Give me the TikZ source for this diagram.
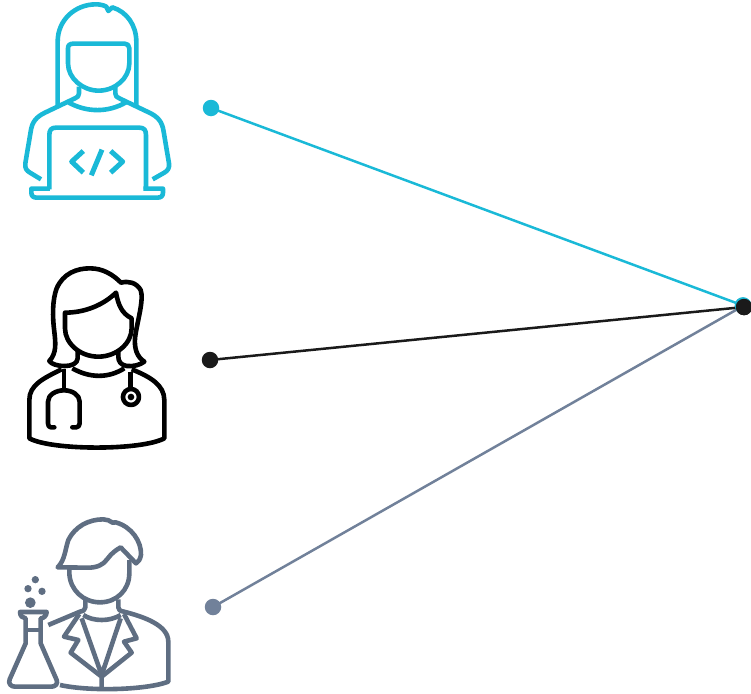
\documentclass[tikz,border=0pt]{standalone}
\definecolor{teal1}{HTML}{1AB9D7}
\definecolor{ink}{HTML}{1A1A1A}
\definecolor{slate}{HTML}{5F6E82}
\definecolor{slateline}{HTML}{71819A}
\tikzset{
  dot/.style={circle,inner sep=0pt,minimum size=#1,fill},
  dot/.default=16.5pt,
  link/.style={line width=2.5pt},
  icon/.style={line width=4.6pt,line join=round,line cap=butt}
}
\begin{document}
\begin{tikzpicture}[x=1pt,y=-1pt]
\useasboundingbox (0,0) rectangle (751,693);
% connector dots and lines
\node[dot,teal1] (a) at (211,108) {};
\node[dot,ink] (b) at (210,360) {};
\node[dot,slateline] (c) at (213,607) {};
\node[dot,teal1] (t1) at (743,305.5) {};
\node[dot,slateline] (t3) at (743,306) {};
\node[dot,ink] (t2) at (744,307) {};
\draw[link,teal1] (a.center) -- (t1.center);
\draw[link,slateline] (c.center) -- (t3.center);
\draw[link,ink] (b.center) -- (t2.center);
\node[dot,teal1] at (t1.center) {};
\node[dot,ink] at (t2.center) {};
% developer
\begin{scope}[shift={(10,0)},x=0.3333pt,y=-0.3333pt,icon,teal1]
\draw (143,315) -- (143,125) .. controls (143,60) and (195,13) .. (258,13)
  .. controls (268,13) and (280,15) .. (289,20) -- (295,33) -- (307,22)
  .. controls (350,35) and (379,75) .. (379,125) -- (379,315);
\draw (174,145) .. controls (174,135) and (180,131) .. (190,131) -- (344,131)
  .. controls (352,131) and (358,136) .. (358,145) -- (358,190)
  .. controls (358,235) and (315,272) .. (266,272)
  .. controls (218,272) and (174,235) .. (174,190) -- cycle;
\draw (207,260) -- (207,280) .. controls (207,288) and (203,292) .. (195,295)
  -- (105,338) .. controls (80,350) and (66,365) .. (62,395) -- (46,490)
  .. controls (44,505) and (50,512) .. (60,518) -- (93,538);
\draw (316,260) -- (316,280) .. controls (316,288) and (320,292) .. (328,295)
  -- (418,338) .. controls (443,350) and (457,365) .. (461,395) -- (477,490)
  .. controls (479,505) and (473,512) .. (463,518) -- (428,538);
\draw (175,307) .. controls (230,338) and (295,338) .. (348,307);
\draw (118,568) -- (118,405) .. controls (118,390) and (124,383) .. (138,383) -- (388,383)
  .. controls (402,383) and (408,390) .. (408,405) -- (408,568);
\draw (120,566) -- (64,566) -- (64,578) .. controls (64,588) and (70,593) .. (80,593)
  -- (443,593) .. controls (453,593) and (459,588) .. (459,578) -- (459,566) -- (400,566);
\draw[line width=5pt] (220,453) -- (185,485) -- (220,518);
\draw[line width=5pt] (302,453) -- (338,485) -- (302,518);
\draw[line width=5pt] (276,449) -- (244,526);
\end{scope}
% doctor
\begin{scope}[shift={(15,260)},x=0.3333pt,y=-0.3333pt,icon,black]
\draw (150,318) .. controls (125,318) and (110,312) .. (103,303)
  .. controls (125,280) and (122,250) .. (118,215)
  .. controls (112,170) and (112,120) .. (125,85)
  .. controls (145,40) and (185,25) .. (225,25)
  .. controls (265,25) and (295,45) .. (318,68)
  .. controls (340,62) and (365,68) .. (377,90)
  .. controls (388,120) and (365,190) .. (360,235)
  .. controls (358,265) and (365,290) .. (388,305)
  .. controls (375,315) and (355,320) .. (335,318)
  .. controls (318,315) and (310,305) .. (310,290) -- (310,270);
\draw (188,270) -- (188,295) .. controls (188,310) and (170,318) .. (150,318);
\draw (150,158) .. controls (210,158) and (265,135) .. (303,98)
  .. controls (310,135) and (320,160) .. (350,175)
  -- (350,205) .. controls (350,250) and (305,290) .. (250,290)
  .. controls (195,290) and (150,250) .. (150,205) -- cycle;
\draw (172,325) .. controls (225,355) and (280,355) .. (328,325);
\draw (140,328) .. controls (85,355) and (43,375) .. (43,420) -- (43,535)
  .. controls (110,572) and (380,572) .. (448,535) -- (448,420)
  .. controls (448,375) and (405,350) .. (350,328);
\draw (147,328) -- (147,392);
\draw[line cap=round] (118,502) -- (108,502) .. controls (102,502) and (99,497) .. (99,490) -- (99,425)
  .. controls (99,405) and (122,391) .. (147,391) .. controls (172,391) and (194,405) .. (194,425)
  -- (194,490) .. controls (194,497) and (190,502) .. (184,502) -- (172,502);
\draw (347,335) -- (347,388);
\draw (348,411) circle[radius=24];
\fill (348,411) circle[radius=10];
\end{scope}
% scientist
\begin{scope}[shift={(0,510)},x=0.3333pt,y=-0.3333pt,icon,slate]
\draw (173,172) .. controls (195,150) and (195,120) .. (205,90)
  .. controls (225,50) and (265,28) .. (310,28)
  .. controls (320,28) and (330,32) .. (338,38) -- (347,37)
  .. controls (395,50) and (425,95) .. (423,135) .. controls (420,150) and (415,155) .. (408,160)
  -- (362,112) .. controls (345,122) and (335,130) .. (322,147)
  .. controls (310,165) and (290,173) .. (265,173) -- cycle;
\draw (208,173) -- (208,190) .. controls (210,240) and (250,277) .. (300,277)
  .. controls (350,277) and (388,240) .. (388,190) -- (388,150);
\draw (256,268) -- (256,292) .. controls (256,300) and (250,303) .. (240,305)
  -- (145,345);
\draw (355,268) -- (355,292) .. controls (355,300) and (360,303) .. (372,305)
  .. controls (430,320) and (505,345) .. (505,395) -- (505,515)
  .. controls (440,540) and (270,545) .. (180,525);
\draw (250,315) .. controls (280,335) and (330,335) .. (362,315);
\draw (238,312) -- (192,380) -- (235,390) -- (212,428) -- (305,500) -- (305,540);
\draw (372,312) -- (410,385) -- (372,395) -- (395,428) -- (305,500);
\draw (245,325) -- (305,495) -- (362,325);
% flask
\draw (77,360) -- (122,360);
\draw (60,306) -- (140,306) .. controls (140,318) and (130,325) .. (122,325) -- (122,400)
  -- (170,510) .. controls (175,522) and (165,530) .. (155,530) -- (45,530)
  .. controls (32,530) and (24,520) .. (29,508) -- (77,400) -- (77,325)
  .. controls (68,325) and (60,318) .. (60,306) -- cycle;
\fill (91,278) circle[radius=16];
\fill (84,236) circle[radius=11];
\fill (126,244) circle[radius=11];
\fill (106,209) circle[radius=11];
\end{scope}
\end{tikzpicture}
\end{document}
